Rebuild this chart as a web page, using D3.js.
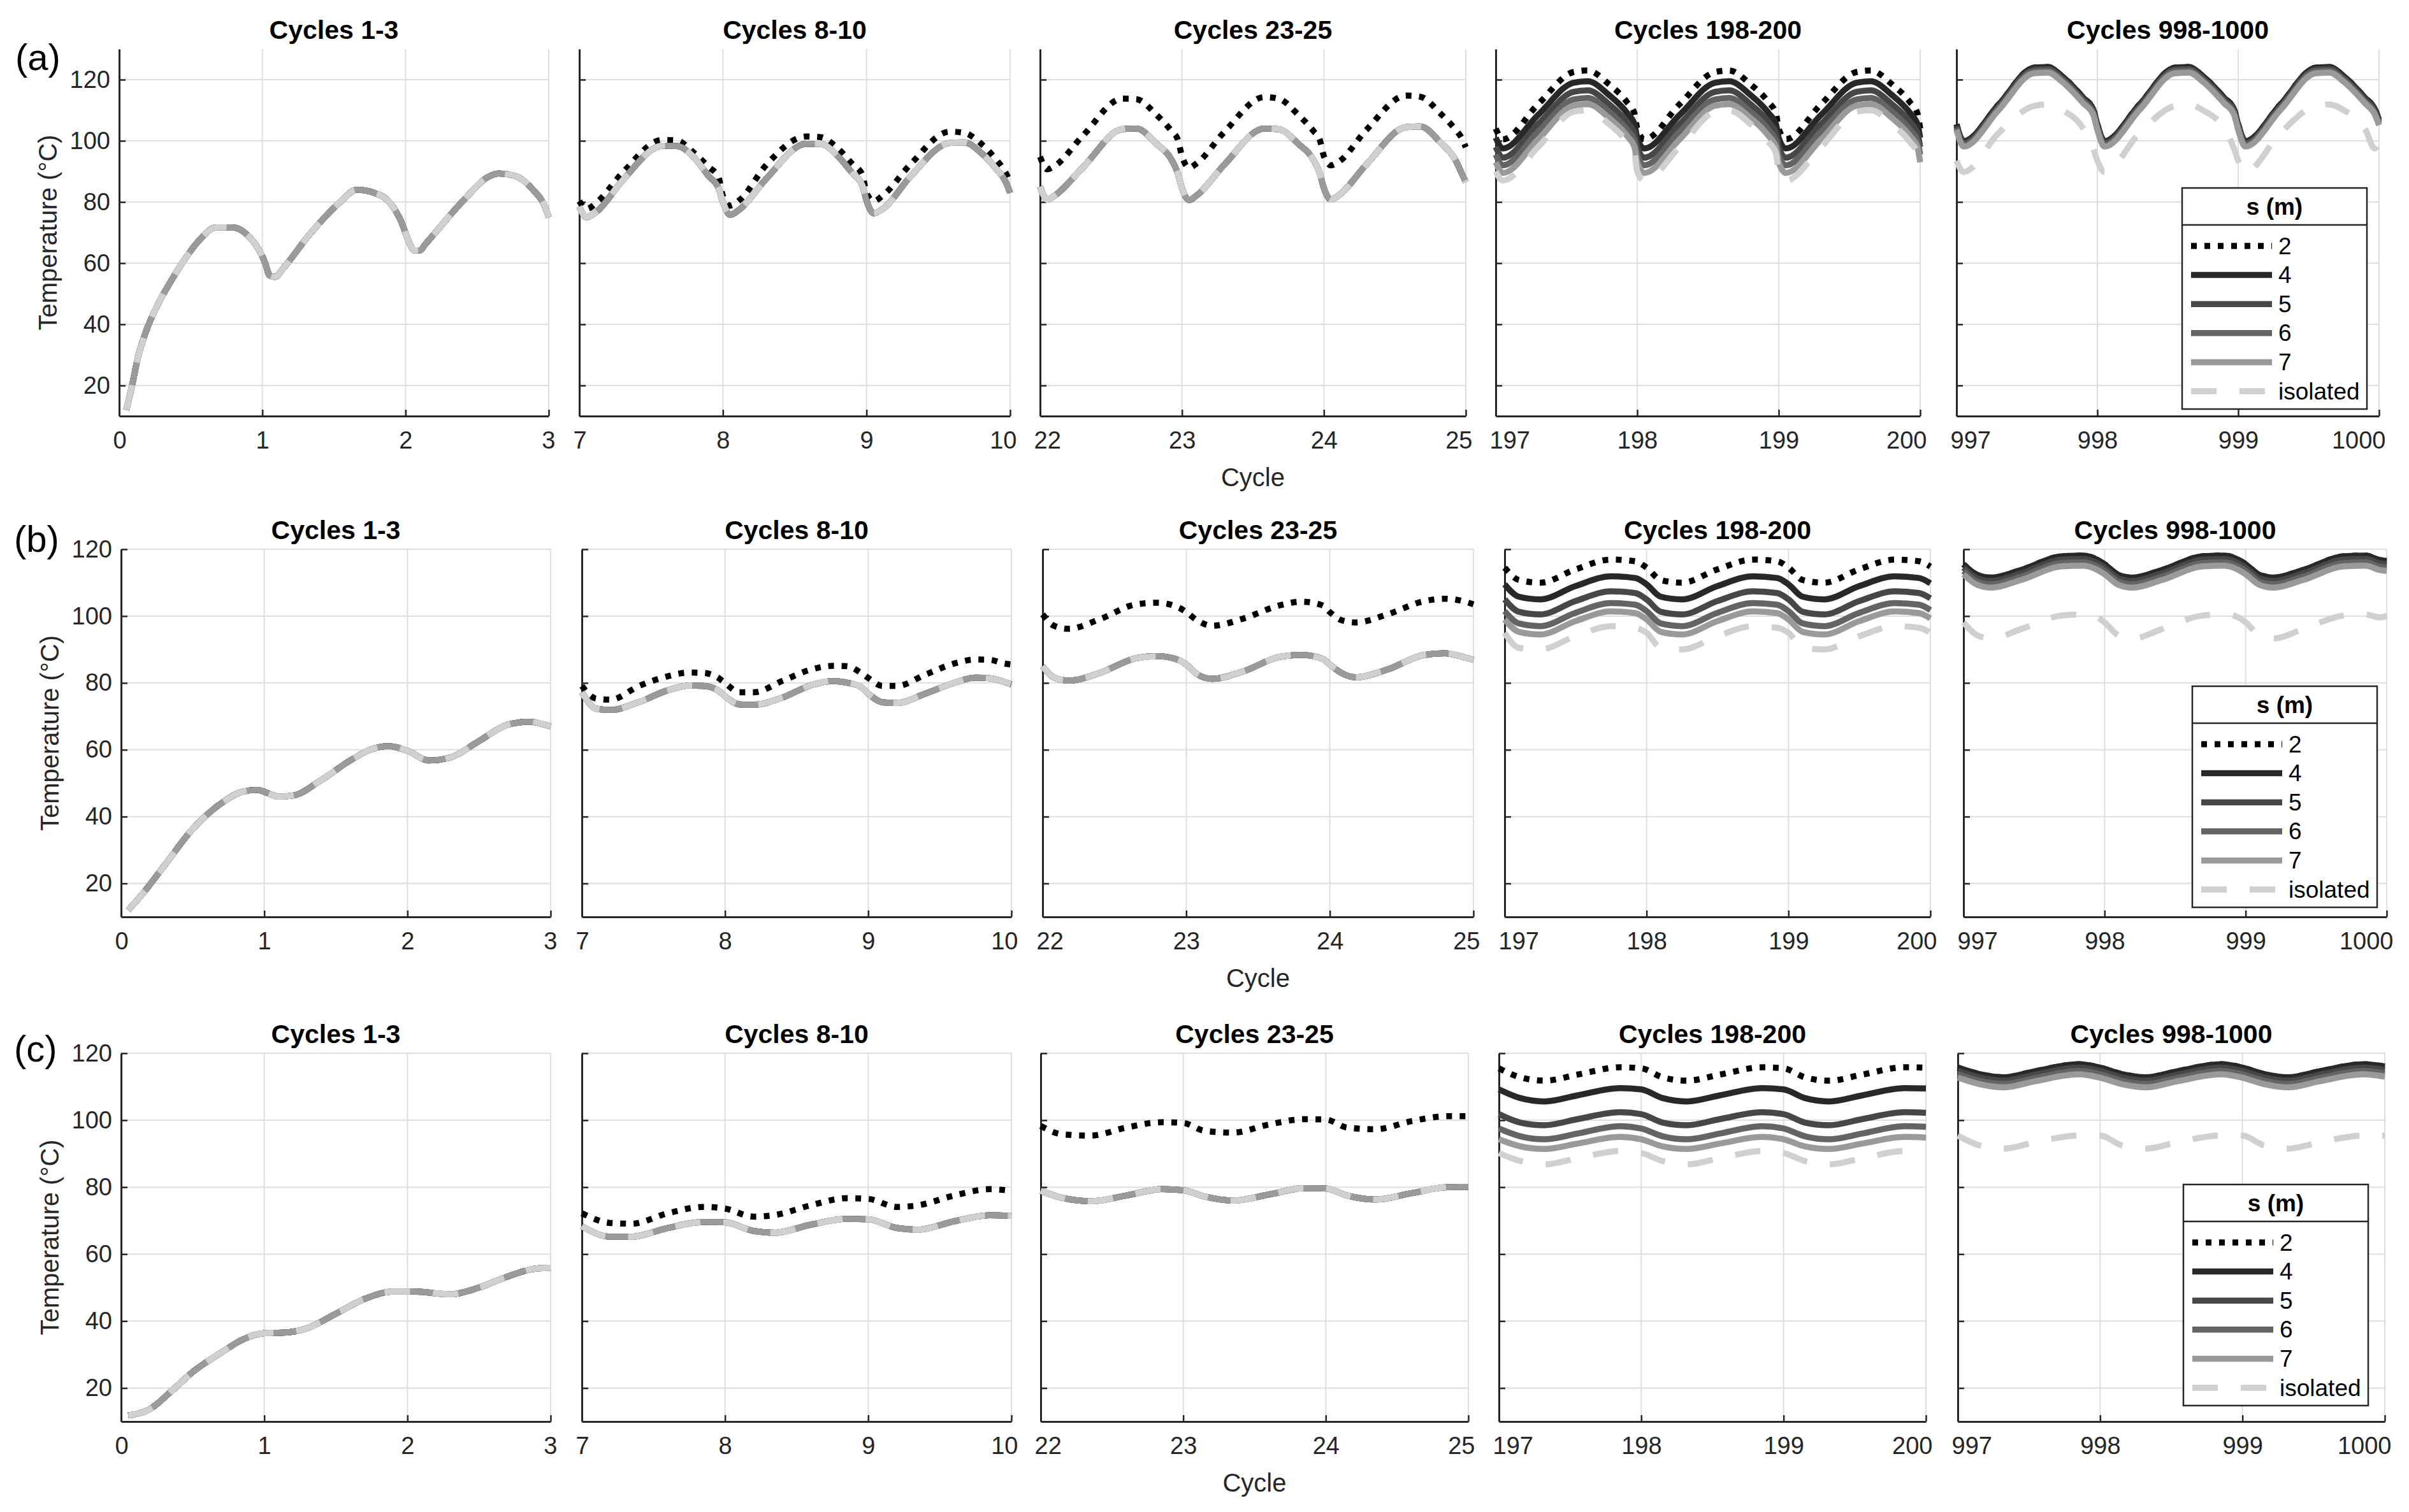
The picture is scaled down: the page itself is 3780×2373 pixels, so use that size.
<!DOCTYPE html>
<html>
<head>
<meta charset="utf-8">
<title>Temperature over cycles</title>
<script src="https://cdn.jsdelivr.net/npm/d3@7"></script>
<style>
  body { margin: 0; background: #fff; }
  svg { font-family: "Liberation Sans", Arial, Helvetica, sans-serif; }
</style>
</head>
<body>
<svg id="chart" width="3780" height="2373"></svg>
<script>
// ---- data: x = cycle, y = temperature (°C) ----
const titles = ['Cycles 1-3', 'Cycles 8-10', 'Cycles 23-25', 'Cycles 198-200', 'Cycles 998-1000'];
const xDomains = [[0, 3], [7, 10], [22, 25], [197, 200], [997, 1000]];
const xTicks = [[0, 1, 2, 3], [7, 8, 9, 10], [22, 23, 24, 25], [197, 198, 199, 200], [997, 998, 999, 1000]];
const yTicks = [20, 40, 60, 80, 100, 120];
const seriesNames = ['2', '4', '5', '6', '7', 'isolated'];

// (a)
const a1x = [0.05,0.09,0.13,0.19,0.27,0.36,0.44,0.55,0.68,0.79,0.9,0.98,1.02,1.05,1.09,1.14,1.33,1.54,1.66,1.78,1.89,1.97,2.02,2.06,2.1,2.14,2.41,2.57,2.65,2.76,2.89,2.97,3.0];
const a1 = [12,20,29,38,46.5,54,60,67,71.7,71.7,69,64,60,56,55.5,58,69.4,79.8,84,83,79.8,73.6,67.4,64.2,64.2,66.3,80.8,88,89.3,88.6,84,78.8,75];

const a2x = [7,7.05,7.12,7.3,7.58,7.68,7.8,7.9,7.97, 8,8.05,8.12,8.3,8.58,8.68,8.8,8.9,8.97, 9,9.05,9.12,9.3,9.58,9.68,9.8,9.9,9.97, 10];
const a2_s2 = [80.3,77.7,79.8,89.5,100.3,100.1,96,91.5,88, 82,78.8,80.8,92,101.4,101.2,97.5,92.5,89, 83,80.3,82.4,92,103,102.6,99,94,89.5, 86.5];
const a2_rest = [78.5,75,76.8,87,98.4,98.3,94.5,88.5,84.5, 80,75.8,77.7,87.5,99,99,95,89.5,85.5, 80.5,76.3,78,88,99.3,99.5,96,91,86.5, 83];

const a3x = [22,22.05,22.1,22.3,22.58,22.68,22.82,22.93,22.97, 23,23.05,23.1,23.3,23.58,23.68,23.82,23.93,23.97, 24,24.05,24.1,24.3,24.58,24.68,24.82,24.93,24.97, 25];
const a3_s2 = [94.8,90.7,91.7,101.6,113.8,113.6,108.5,103,100.5, 95,91.2,92.5,103,114.3,113.8,108.5,103,100.5, 95,92,93,103.6,114.8,114.4,109,103.5,101, 97.9];
const a3_rest = [85,80.8,82,91.2,103.8,104,99,93.5,89.5, 84.5,80.6,82,92.3,104,103.8,99,93.5,89.5, 84.5,80.8,82,92.3,104.5,104.7,99.5,93.5,89.5, 86.5];

const a4x = [197,197.05,197.3,197.55,197.65,197.8,197.93,197.98, 198,198.05,198.3,198.55,198.65,198.8,198.93,198.98, 199,199.05,199.3,199.55,199.65,199.8,199.93,199.98, 200];
const a4_s2 = [104,100.5,112,122.5,123,118.5,112.5,109, 104,100.5,112,122.5,123,118.5,112.5,109, 104,100.5,112,122.5,123,118.5,112.5,109, 104];
const a4_s4 = [101,97.5,108.5,119,119.5,115,109,105.5, 101,97.5,108.5,119,119.5,115,109,105.5, 101,97.5,108.5,119,119.5,115,109,105.5, 101];
const a4_s5 = [98,94.5,105.5,116,116.5,112,106,102.5, 98,94.5,105.5,116,116.5,112,106,102.5, 98,94.5,105.5,116,116.5,112,106,102.5, 98];
const a4_s6 = [95.5,92,103,113.5,114,109.5,103.5,100, 95.5,92,103,113.5,114,109.5,103.5,100, 95.5,92,103,113.5,114,109.5,103.5,100, 95.5];
const a4_s7 = [93,89.5,100.5,111.5,112,107.5,101.5,98, 93,89.5,100.5,111.5,112,107.5,101.5,98, 93,89.5,100.5,111.5,112,107.5,101.5,98, 93];
const a4_iso = [90,87,98,109.5,110,105.5,99.5,96, 90,87,98,109.5,110,105.5,99.5,96, 90,87,98,109.5,110,105.5,99.5,96, 90];

const a5x = [997,997.05,997.3,997.55,997.65,997.75,997.9,997.97, 998,998.05,998.3,998.55,998.65,998.75,998.9,998.97, 999,999.05,999.3,999.55,999.65,999.75,999.9,999.97, 1000];
const a5_s4 = [105.4,99.9,111.9,123.9,124.1,121.1,114.1,110.4, 105.4,99.9,111.9,123.9,124.1,121.1,114.1,110.4, 105.4,99.9,111.9,123.9,124.1,121.1,114.1,110.4, 106.9];
const a5_s5 = [104.8,99.3,111.3,123.3,123.5,120.5,113.5,109.8, 104.8,99.3,111.3,123.3,123.5,120.5,113.5,109.8, 104.8,99.3,111.3,123.3,123.5,120.5,113.5,109.8, 106.3];
const a5_s6 = [104.2,98.7,110.7,122.7,122.9,119.9,112.9,109.2, 104.2,98.7,110.7,122.7,122.9,119.9,112.9,109.2, 104.2,98.7,110.7,122.7,122.9,119.9,112.9,109.2, 105.7];
const a5_s7 = [103.6,98.1,110.1,122.1,122.3,119.3,112.3,108.6, 103.6,98.1,110.1,122.1,122.3,119.3,112.3,108.6, 103.6,98.1,110.1,122.1,122.3,119.3,112.3,108.6, 105.1];
const a5_iso = [93.5,89.8,102.6,111.4,111.9,110,104,97.5, 93.5,89.8,102.6,111.4,111.9,110,104,97.5, 93.5,89.8,102.6,111.4,111.9,110,104,97.5, 100];

// (b)
const b1x = [0.05,0.15,0.3,0.5,0.7,0.85,0.95,1.1,1.2,1.4,1.6,1.75,1.87,2.0,2.15,2.3,2.5,2.7,2.85,3.0];
const b1 = [12,16.9,25.2,36.3,44,47.5,48,46,46.3,51,56.8,60.2,61.1,59.7,56.8,57.7,62.6,67.5,68.4,67];

const b2x = [7,7.1,7.2,7.4,7.6,7.75,7.85,7.95, 8,8.1,8.2,8.4,8.6,8.75,8.85,8.95, 9,9.1,9.2,9.4,9.6,9.75,9.85,9.95, 10];
const b2_s2 = [79.1,75.3,75,79.1,82,83.1,83,81.6, 80,77.2,77.2,80.6,84,85.1,85,83, 81.5,79.1,79.1,82.5,85.8,87,86.9,85.8, 85.5];
const b2_rest = [77.2,72.3,71.9,74.3,77.8,79.2,79.1,77.8, 76,73.6,73.5,75.6,79.3,80.6,80.1,78.8, 76.8,74.2,74,76.8,80,81.6,81.4,80.3, 79.6];

const b3x = [22,22.08,22.18,22.4,22.65,22.8,22.95, 23,23.08,23.18,23.4,23.65,23.8,23.95, 24,24.08,24.18,24.4,24.65,24.8,24.95, 25];
const b3_s2 = [100.5,97.1,96.2,99.1,103.5,104,102.5, 101.2,98.6,97.1,99.3,103.2,104.3,103.2, 101.2,98.8,98.1,100.5,104.4,105.2,104.2, 103.5];
const b3_rest = [85,81.6,80.7,83,87.4,88,86.8, 85.5,82.5,81.2,83.5,87.8,88.4,87.2, 85.5,83,81.7,84,88.3,88.9,87.5, 86.9];

const b4x = [197,197.1,197.25,197.5,197.75,197.92, 198,198.1,198.25,198.5,198.75,198.92, 199,199.1,199.25,199.5,199.75,199.92, 200];
const b4_s2 = [114.5,110.8,110,114,116.9,116.4, 114.5,110.8,110,114,116.9,116.4, 114.5,110.8,110,114,116.9,116.4, 114.8];
const b4_s4 = [109.5,105.8,105,109,111.9,111.4, 109.5,105.8,105,109,111.9,111.4, 109.5,105.8,105,109,111.9,111.4, 109.8];
const b4_s5 = [105,101.3,100.5,104.5,107.4,106.9, 105,101.3,100.5,104.5,107.4,106.9, 105,101.3,100.5,104.5,107.4,106.9, 105.3];
const b4_s6 = [101.5,97.8,97,101,103.9,103.4, 101.5,97.8,97,101,103.9,103.4, 101.5,97.8,97,101,103.9,103.4, 101.8];
const b4_s7 = [99,95.3,94.5,98.5,101.4,100.9, 99,95.3,94.5,98.5,101.4,100.9, 99,95.3,94.5,98.5,101.4,100.9, 99.3];
const b4_iso = [95,90.5,90,94,97,96.5, 95,90.5,90,94,97,96.5, 95,90.5,90,94,97,96.5, 95];

const b5x = [997,997.1,997.2,997.4,997.7,997.85,997.95, 998,998.1,998.2,998.4,998.7,998.85,998.95, 999,999.1,999.2,999.4,999.7,999.85,999.95, 1000];
const b5_s4 = [115.5,112.3,111.5,113.7,117.9,118.1,116.8, 115.5,112.3,111.5,113.7,117.9,118.1,116.8, 115.5,112.3,111.5,113.7,117.9,118.1,116.8, 116.5];
const b5_s5 = [114.5,111.3,110.5,112.7,116.9,117.1,115.8, 114.5,111.3,110.5,112.7,116.9,117.1,115.8, 114.5,111.3,110.5,112.7,116.9,117.1,115.8, 115.5];
const b5_s6 = [113.5,110.3,109.5,111.7,115.9,116.1,114.8, 113.5,110.3,109.5,111.7,115.9,116.1,114.8, 113.5,110.3,109.5,111.7,115.9,116.1,114.8, 114.5];
const b5_s7 = [112.5,109.3,108.5,110.7,114.9,115.1,113.8, 112.5,109.3,108.5,110.7,114.9,115.1,113.8, 112.5,109.3,108.5,110.7,114.9,115.1,113.8, 113.5];
const b5_iso = [98.1,94.2,93.3,96,100.2,100.5,99.6, 98.1,94.2,93.3,96,100.2,100.5,99.6, 98.1,94.2,93.3,96,100.2,100.5,99.6, 100];

// (c)
const c1x = [0.05,0.2,0.35,0.5,0.7,0.85,1.0,1.15,1.3,1.5,1.7,1.9,2.05,2.3,2.5,2.7,2.9,3.0];
const c1 = [11.8,13.7,19,24.8,30.6,34.5,36.4,36.6,37.9,42.2,46.6,48.8,48.8,48,50,53.3,55.7,55.9];

const c2x = [7,7.2,7.35,7.6,7.85, 8,8.2,8.35,8.6,8.85, 9,9.2,9.35,9.6,9.85, 10];
const c2_s2 = [72.2,69.3,69.1,72.2,74.1, 73.6,71.2,71.7,74.6,76.7, 76.5,74.1,74.6,77.5,79.4, 78.9];
const c2_rest = [68.3,65.2,65.2,67.8,69.6, 69.5,66.9,66.4,68.8,70.5, 70.4,67.8,67.3,69.8,71.6, 71.4];

const c3x = [22,22.15,22.35,22.6,22.85, 23,23.15,23.35,23.6,23.85, 24,24.15,24.35,24.6,24.85, 25];
const c3_s2 = [98.3,95.8,95.4,97.8,99.4, 99.2,96.8,96.3,98.7,100.3, 100.2,97.8,97.3,99.7,101.2, 101.2];
const c3_rest = [78.9,76.8,75.8,77.5,79.4, 79.1,77.2,76,77.8,79.7, 79.6,77.5,76.3,78.2,80, 80.1];

const c4x = [197,197.15,197.32,197.55,197.85, 198,198.15,198.32,198.55,198.85, 199,199.15,199.32,199.55,199.85, 200];
const c4_s2 = [115.5,112.8,111.8,113.6,115.8, 115.5,112.8,111.8,113.6,115.8, 115.5,112.8,111.8,113.6,115.8, 115.7];
const c4_s4 = [109.2,106.6,105.6,107.4,109.6, 109.2,106.6,105.6,107.4,109.6, 109.2,106.6,105.6,107.4,109.6, 109.5];
const c4_s5 = [101.8,99.3,98.5,100.3,102.4, 101.8,99.3,98.5,100.3,102.4, 101.8,99.3,98.5,100.3,102.4, 102.2];
const c4_s6 = [97.5,95.2,94.3,96,98.2, 97.5,95.2,94.3,96,98.2, 97.5,95.2,94.3,96,98.2, 98];
const c4_s7 = [94.3,92.2,91.4,93,95, 94.3,92.2,91.4,93,95, 94.3,92.2,91.4,93,95, 94.8];
const c4_iso = [90.2,87.8,86.8,88.6,90.8, 90.2,87.8,86.8,88.6,90.8, 90.2,87.8,86.8,88.6,90.8, 90.6];

const c5x = [997,997.15,997.32,997.55,997.85, 998,998.15,998.32,998.55,998.85, 999,999.15,999.32,999.55,999.85, 1000];
const c5_s4 = [115.7,113.8,112.8,114.7,116.7, 115.7,113.8,112.8,114.7,116.7, 115.7,113.8,112.8,114.7,116.7, 116];
const c5_s5 = [114.7,112.8,111.8,113.7,115.7, 114.7,112.8,111.8,113.7,115.7, 114.7,112.8,111.8,113.7,115.7, 115];
const c5_s6 = [113.7,111.8,110.8,112.7,114.7, 113.7,111.8,110.8,112.7,114.7, 113.7,111.8,110.8,112.7,114.7, 114];
const c5_s7 = [112.7,110.8,109.8,111.7,113.7, 112.7,110.8,109.8,111.7,113.7, 112.7,110.8,109.8,111.7,113.7, 113];
const c5_iso = [95.4,92.5,91.5,93.5,95.4, 95.4,92.5,91.5,93.5,95.4, 95.4,92.5,91.5,93.5,95.4, 95.4];

// series order: 2, 4, 5, 6, 7, isolated (drawn in that order)
const panelData = [
  [
    [a1x, [a1, a1, a1, a1, a1, a1]],
    [a2x, [a2_s2, a2_rest, a2_rest, a2_rest, a2_rest, a2_rest]],
    [a3x, [a3_s2, a3_rest, a3_rest, a3_rest, a3_rest, a3_rest]],
    [a4x, [a4_s2, a4_s4, a4_s5, a4_s6, a4_s7, a4_iso]],
    [a5x, [a5_s4, a5_s4, a5_s5, a5_s6, a5_s7, a5_iso]]
  ],
  [
    [b1x, [b1, b1, b1, b1, b1, b1]],
    [b2x, [b2_s2, b2_rest, b2_rest, b2_rest, b2_rest, b2_rest]],
    [b3x, [b3_s2, b3_rest, b3_rest, b3_rest, b3_rest, b3_rest]],
    [b4x, [b4_s2, b4_s4, b4_s5, b4_s6, b4_s7, b4_iso]],
    [b5x, [b5_s4, b5_s4, b5_s5, b5_s6, b5_s7, b5_iso]]
  ],
  [
    [c1x, [c1, c1, c1, c1, c1, c1]],
    [c2x, [c2_s2, c2_rest, c2_rest, c2_rest, c2_rest, c2_rest]],
    [c3x, [c3_s2, c3_rest, c3_rest, c3_rest, c3_rest, c3_rest]],
    [c4x, [c4_s2, c4_s4, c4_s5, c4_s6, c4_s7, c4_iso]],
    [c5x, [c5_s4, c5_s4, c5_s5, c5_s6, c5_s7, c5_iso]]
  ]
];

// ---- layout / style ----
const rows = [
  { tag: '(a)', tagX: 24, tagY: 110, top: 77, bottom: 653, yMax: 130,
    lefts: [187, 909, 1632, 2347, 3070], rights: [861, 1585, 2300, 3013, 3733], legend: [3424, 295] },
  { tag: '(b)', tagX: 22, tagY: 866, top: 862, bottom: 1439, yMax: 120,
    lefts: [190, 913, 1636, 2361, 3081], rights: [864, 1587, 2312, 3029, 3745], legend: [3440, 1077] },
  { tag: '(c)', tagX: 22, tagY: 1666, top: 1653, bottom: 2231, yMax: 120,
    lefts: [190, 913, 1633, 2352, 3072], rights: [864, 1587, 2304, 3022, 3742], legend: [3426, 1859] }
];
const colors = ['#000000', '#282828', '#474747', '#646464', '#9a9a9a', '#d0d0d0'];
const dashes = ['9,12', null, null, null, null, '40,36'];
const LW = 9.5;
const axisColor = '#262626';
const gridColor = '#dedede';

const svg = d3.select('#chart');
svg.append('rect').attr('width', 3780).attr('height', 2373).attr('fill', '#fff');

rows.forEach((row, ri) => {
  const y = d3.scaleLinear().domain([10, row.yMax]).range([row.bottom, row.top]);

  svg.append('text')
    .attr('x', row.tagX).attr('y', row.tagY)
    .attr('font-size', 58).attr('fill', '#000')
    .text(row.tag);

  for (let pi = 0; pi < 5; pi++) {
    const L = row.lefts[pi], R = row.rights[pi];
    const x = d3.scaleLinear().domain(xDomains[pi]).range([L, R]);
    const g = svg.append('g');

    // grid
    g.selectAll('.vg').data(xTicks[pi]).enter().append('line')
      .attr('x1', d => x(d)).attr('x2', d => x(d))
      .attr('y1', row.top).attr('y2', row.bottom)
      .attr('stroke', gridColor).attr('stroke-width', 2);
    g.selectAll('.hg').data(yTicks).enter().append('line')
      .attr('x1', L).attr('x2', R)
      .attr('y1', d => y(d)).attr('y2', d => y(d))
      .attr('stroke', gridColor).attr('stroke-width', 2);

    // axes (inward ticks, box off)
    const xAxis = d3.axisBottom(x).tickValues(xTicks[pi]).tickFormat(d => String(d))
      .tickSizeInner(-10).tickSizeOuter(0).tickPadding(24);
    const gx = g.append('g').attr('transform', `translate(0,${row.bottom})`).call(xAxis);
    const yAxis = d3.axisLeft(y).tickValues(yTicks).tickFormat(d => String(d))
      .tickSizeInner(-10).tickSizeOuter(0).tickPadding(14);
    const gy = g.append('g').attr('transform', `translate(${L},0)`).call(yAxis);
    [gx, gy].forEach(a => {
      a.select('.domain').attr('stroke', axisColor).attr('stroke-width', 3);
      a.selectAll('.tick line').attr('stroke', axisColor).attr('stroke-width', 2.5);
      a.selectAll('.tick text').attr('font-size', 38).attr('fill', axisColor)
        .attr('font-family', '"Liberation Sans", Arial, sans-serif');
    });
    gx.selectAll('.tick text').attr('dy', '0.71em');
    // edge labels sit inside the axis span, as in the original
    const nT = xTicks[pi].length;
    gx.selectAll('.tick text')
      .attr('text-anchor', (d, k) => k === 0 ? 'start' : (k === nT - 1 ? 'end' : 'middle'))
      .attr('x', (d, k) => k === 0 ? -10 : (k === nT - 1 ? 10 : 0));
    if (pi > 0) gy.selectAll('.tick text').remove();

    // title
    g.append('text')
      .attr('x', (L + R) / 2).attr('y', row.top - 16)
      .attr('text-anchor', 'middle').attr('font-size', 41).attr('font-weight', 'bold')
      .attr('fill', '#000').text(titles[pi]);

    if (pi === 0) {
      g.append('text')
        .attr('transform', `translate(${L - 112},${(row.top + row.bottom) / 2}) rotate(-90)`)
        .attr('text-anchor', 'middle').attr('dominant-baseline', 'central')
        .attr('font-size', 40).attr('fill', axisColor)
        .text('Temperature (°C)');
    }
    if (pi === 2) {
      g.append('text')
        .attr('x', (L + R) / 2).attr('y', row.bottom + 110)
        .attr('text-anchor', 'middle').attr('font-size', 40).attr('fill', axisColor)
        .text('Cycle');
    }

    // lines
    const [xs, ys] = panelData[ri][pi];
    const line = d3.line()
      .x(d => x(d[0])).y(d => y(d[1]))
      .curve(d3.curveMonotoneX);
    ys.forEach((vals, si) => {
      const pts = xs.map((c, k) => [c, vals[k]]);
      g.append('path')
        .attr('d', line(pts))
        .attr('fill', 'none')
        .attr('stroke', colors[si])
        .attr('stroke-width', LW)
        .attr('stroke-linejoin', 'round')
        .attr('stroke-dasharray', dashes[si]);
    });
  }

  // legend
  const [lx, ly] = row.legend;
  const lw = 290, lh = 347, th = 58, step = 45.6;
  const lg = svg.append('g').attr('transform', `translate(${lx},${ly})`);
  lg.append('rect').attr('width', lw).attr('height', lh)
    .attr('fill', '#fff').attr('stroke', axisColor).attr('stroke-width', 2.5);
  lg.append('line').attr('x1', 0).attr('x2', lw).attr('y1', th).attr('y2', th)
    .attr('stroke', axisColor).attr('stroke-width', 2.5);
  lg.append('text').attr('x', lw / 2).attr('y', th / 2)
    .attr('text-anchor', 'middle').attr('dominant-baseline', 'central')
    .attr('font-size', 37).attr('font-weight', 'bold').attr('fill', '#000')
    .text('s (m)');
  seriesNames.forEach((name, si) => {
    const yy = 91 + si * step;
    lg.append('line').attr('x1', 14).attr('x2', 141).attr('y1', yy).attr('y2', yy)
      .attr('stroke', colors[si]).attr('stroke-width', LW)
      .attr('stroke-dasharray', dashes[si]);
    lg.append('text').attr('x', 151).attr('y', yy)
      .attr('dominant-baseline', 'central')
      .attr('font-size', 37).attr('fill', '#000')
      .text(name);
  });
});
</script>
</body>
</html>
